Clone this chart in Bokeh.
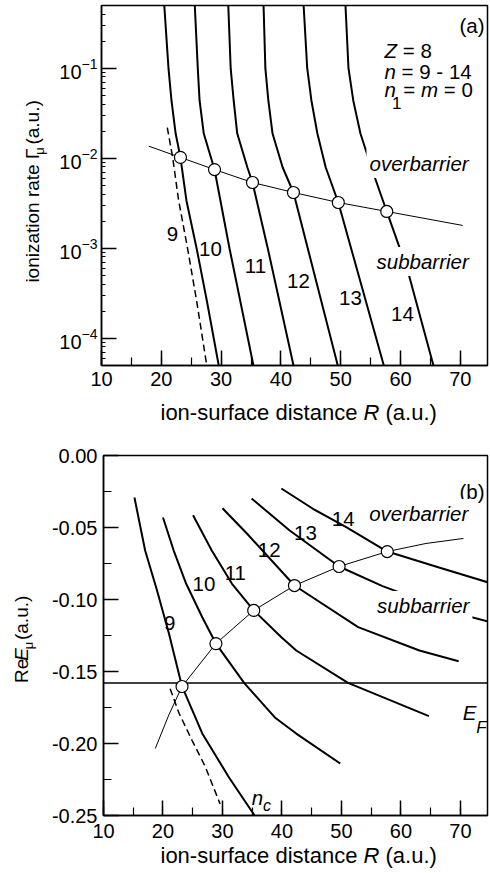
import math
from bokeh.plotting import figure
from bokeh.layouts import column, row
from bokeh.models import (Label, SingleIntervalTicker, FixedTicker, LogTickFormatter,
                          PrintfTickFormatter, Range1d)
from bokeh.embed import file_html
from bokeh.resources import INLINE

# ---------------- panel (a): ionization rate vs R ----------------
Ra_9 = [20.5, 21.2, 21.7, 22.4, 23.2, 24.2, 25.9, 27.6, 29.6]
Ga_9 = [0.498, 0.1, 0.0438, 0.0188, 0.0102, 0.00339, 0.001, 0.000264, 5e-5]
Ra_10 = [25.6, 26.1, 26.4, 27.1, 28.9, 31.4, 35.4]
Ga_10 = [0.498, 0.1, 0.0438, 0.0188, 0.00748, 0.001, 5e-5]
Ra_11 = [31.2, 31.6, 32.1, 32.7, 34.4, 35.25, 37.8, 42.1]
Ga_11 = [0.498, 0.1, 0.0438, 0.0188, 0.00788, 0.00537, 0.001, 5e-5]
Ra_12 = [37.1, 37.4, 37.9, 38.6, 40.3, 42.1, 49.5]
Ga_12 = [0.498, 0.1, 0.0438, 0.0188, 0.00788, 0.00416, 5e-5]
Ra_13 = [43.8, 44.4, 45.1, 46.1, 47.5, 49.6, 57.2]
Ga_13 = [0.498, 0.1, 0.0438, 0.0188, 0.00788, 0.00322, 5e-5]
Ra_14 = [50.8, 51.3, 52.1, 53.3, 55.3, 57.7, 61.2, 65.5]
Ga_14 = [0.498, 0.1, 0.0438, 0.0188, 0.0073, 0.00256, 0.000565, 5e-5]
Ra_dash = [21.0, 21.9, 22.9, 24.4, 25.9, 27.6]
Ga_dash = [0.0219, 0.0102, 0.00339, 0.00099, 0.000262, 5e-5]
R_circ = [23.2, 28.9, 35.25, 42.1, 49.6, 57.7]
Ga_circ = [0.0102, 0.00748, 0.00537, 0.00416, 0.00322, 0.00256]
Ra_link = [17.9, 23.2, 28.9, 35.25, 42.1, 49.6, 57.7, 70.4]
Ga_link = [0.0136, 0.0102, 0.00748, 0.00537, 0.00416, 0.00322, 0.00256, 0.00179]

# ---------------- panel (b): Re E vs R ----------------
Rb_9 = [15.2, 17.0, 19.0, 21.0, 23.2, 26.6, 31.1, 35.4]
Eb_9 = [-0.0292, -0.066, -0.0938, -0.1236, -0.1604, -0.193, -0.2236, -0.25]
Rb_10 = [20.0, 21.8, 23.9, 26.6, 28.9, 33.7, 38.8, 42.4, 49.8]
Eb_10 = [-0.0431, -0.066, -0.0891, -0.1123, -0.1306, -0.1583, -0.1819, -0.1931, -0.2139]
Rb_11 = [25.05, 28.2, 31.6, 35.25, 39.9, 42.4, 51.1, 64.7]
Eb_11 = [-0.0415, -0.066, -0.0891, -0.1076, -0.1262, -0.1354, -0.1579, -0.181]
Rb_12 = [30.0, 34.1, 42.1, 52.8, 63.1, 69.7]
Eb_12 = [-0.0366, -0.0542, -0.0903, -0.1192, -0.1354, -0.1429]
Rb_13 = [34.9, 41.3, 49.6, 56.9, 68.9, 74.7]
Eb_13 = [-0.0299, -0.0521, -0.0771, -0.0907, -0.109, -0.1153]
Rb_14 = [39.9, 45.2, 50.8, 57.7, 66.4, 74.7]
Eb_14 = [-0.0229, -0.0370, -0.0498, -0.0667, -0.0778, -0.0882]
Rb_dash = [21.2, 22.7, 24.9, 27.1, 29.6]
Eb_dash = [-0.162, -0.179, -0.198, -0.216, -0.242]
Eb_circ = [-0.1604, -0.1306, -0.1076, -0.0903, -0.0771, -0.0667]
Rb_link = [18.7, 21.0, 23.2, 28.9, 35.25, 42.1, 49.6, 57.7, 64.2, 70.5]
Eb_link = [-0.2035, -0.180, -0.1604, -0.1306, -0.1076, -0.0903, -0.0771, -0.0667, -0.0611, -0.0576]
E_F = -0.158

x_ticks_major = 10
FONT = "Liberation Sans"

# ---------------- geometry helpers (page pixels -> data) ----------------
FL, FW = 101, 386
X0 = 10.0
PXU = 5.98
X1 = X0 + FW / PXU


def X(px):
    return X0 + (px - FL) / PXU


def Ya(py):
    return 10 ** (-1 - (py - 67.7) / 90.0)


def Yb(py):
    return -(py - 455) / 1440.0


ADV = {' ': 278, '(': 333, ')': 333, '.': 278, '-': 333, '=': 584, 'a': 556, 'b': 556,
       'c': 500, 'd': 556, 'e': 556, 'f': 278, 'i': 222, 'm': 833, 'n': 556, 'o': 556,
       'r': 333, 's': 500, 't': 278, 'u': 556, 'z': 500, 'E': 667, 'F': 611, 'R': 722,
       'Z': 611, 'Γ': 556, 'μ': 576}
MID = 0.35  # distance of the "middle" text line above the baseline, in em


def tw(s, size):
    return sum(ADV.get(ch, 556) for ch in s) * size / 1000.0


def lab(p, x, y, text, size, italic=False, align="left", angle=0.0, bg=False, baseline="alphabetic"):
    kw = {}
    if bg:
        kw = dict(background_fill_color="white", background_fill_alpha=1.0, padding=3)
    p.add_layout(Label(x=x, y=y, text=text, angle=angle,
                       text_font=FONT, text_font_size=f"{size}px",
                       text_font_style="italic" if italic else "normal",
                       text_align=align, text_baseline=baseline,
                       text_color="black", **kw))


def put(p, conv, pieces, px0, py0):
    """horizontal rich text: pieces of (text, size, italic, baseline shift down, extra dx)"""
    cx, cy = conv
    pos = px0
    for piece in pieces:
        text, size, ital, shift = piece[:4]
        pos += piece[4] if len(piece) > 4 else 0
        lead = len(text) - len(text.lstrip(' '))
        trail = len(text) - len(text.rstrip(' '))
        core = text.strip(' ')
        pos += tw(' ' * lead, size)
        lab(p, cx(pos), cy(py0 + shift), core, size, ital)
        pos += tw(core, size) + tw(' ' * trail, size)


def put_up(p, conv, pieces, bx, py0):
    """vertical (bottom-to-top) rich text; baseline at page x = bx, text starting at page y = py0"""
    cx, cy = conv
    pos = py0
    for text, size, ital, shift in pieces:
        lead = len(text) - len(text.lstrip(' '))
        trail = len(text) - len(text.rstrip(' '))
        core = text.strip(' ')
        pos -= tw(' ' * lead, size)
        w = tw(core, size)
        cpy = pos - w / 2.0
        cpx = bx + shift - MID * size
        lab(p, cx(cpx), cy(cpy), core, size, ital, align="center", angle=math.pi / 2, baseline="middle")
        pos -= w + tw(' ' * trail, size)


def style(p, y_minor_in):
    p.grid.visible = False
    p.outline_line_color = "black"
    p.outline_line_width = 1.5
    for ax in p.axis:
        ax.axis_line_width = 1.5
        ax.axis_line_color = "black"
        ax.major_tick_line_width = 1.5
        ax.minor_tick_line_width = 1.2
        ax.major_tick_line_color = "black"
        ax.minor_tick_line_color = "black"
        ax.major_tick_in = 15
        ax.major_tick_out = 0
        ax.minor_tick_out = 0
        ax.major_label_text_font = FONT
        ax.major_label_text_font_size = "20px"
        ax.major_label_text_color = "black"
    for ax in p.xaxis:
        ax.minor_tick_in = 8
    for ax in p.yaxis:
        ax.minor_tick_in = y_minor_in


def text_fig(w, h, transparent=False):
    f = figure(width=w, height=h, x_range=Range1d(0, w), y_range=Range1d(0, h),
               output_backend="svg", toolbar_location=None, min_border=0,
               x_axis_location=None, y_axis_location=None)
    f.grid.visible = False
    f.outline_line_color = None
    if transparent:
        f.background_fill_color = None
        f.border_fill_color = None
    return f


# page layout (pixels from the top-left of the page)
TOP_H, XLA_H, BOT_H, XLB_H, OVL = 394, 46, 406, 37, 10
YLW = 48
A_TOP = 0
XLA_TOP = TOP_H
B_TOP = TOP_H + XLA_H
XLB_TOP = B_TOP + BOT_H - OVL

# ---------------- panel (a) ----------------
p1 = figure(width=490 - YLW, height=TOP_H, x_range=Range1d(X0, X1), y_range=Range1d(Ya(365), Ya(5)),
            y_axis_type="log", output_backend="svg", toolbar_location=None,
            min_border_left=FL - YLW, min_border_right=3, min_border_top=5, min_border_bottom=TOP_H - 365)
p1.xaxis.ticker = SingleIntervalTicker(interval=x_ticks_major, num_minor_ticks=2)
p1.yaxis.ticker = FixedTicker(ticks=[1e-4, 1e-3, 1e-2, 1e-1],
                              minor_ticks=[k * 10.0 ** e for e in range(-5, 0) for k in range(2, 10)])
p1.yaxis.formatter = LogTickFormatter()
style(p1, 4)
p1.xaxis.major_label_standoff = 6
p1.yaxis.major_label_standoff = 4

for rr, gg in [(Ra_9, Ga_9), (Ra_10, Ga_10), (Ra_11, Ga_11), (Ra_12, Ga_12), (Ra_13, Ga_13), (Ra_14, Ga_14)]:
    p1.line(rr, gg, line_color="black", line_width=2)
p1.line(Ra_dash, Ga_dash, line_color="black", line_width=1.5, line_dash="7 4")
p1.line(Ra_link, Ga_link, line_color="black", line_width=1)
p1.scatter(R_circ, Ga_circ, marker="circle", size=12, fill_color="white", line_color="black", line_width=1.2)

CA = (X, Ya)
lab(p1, X(484), Ya(25), "(a)", 20.5, align="right")
put(p1, CA, [("Z", 20.5, True, 0), (" = 8", 20.5, False, 0)], 384, 50)
put(p1, CA, [("n", 20.5, True, 0), (" = 9 - 14", 20.5, False, 0)], 384, 71)
put(p1, CA, [("n", 20.5, True, 0), ("1", 17, False, 13, -4), ("= ", 20.5, False, 0, 2),
             ("m", 20.5, True, 0), (" = 0", 20.5, False, 0)], 384, 89)
lab(p1, X(366), Ya(163), "overbarrier", 20.5, italic=True, bg=True)
lab(p1, X(373), Ya(261), "subbarrier", 20.5, italic=True, bg=True)
for t, cx, by in [("9", 172, 233), ("10", 210, 248), ("11", 255, 265), ("12", 298, 280),
                  ("13", 350, 297), ("14", 402, 313)]:
    lab(p1, X(cx), Ya(by), t, 20.5, align="center")

ylabA = text_fig(YLW, TOP_H)
put_up(ylabA, (lambda px: px, lambda py: A_TOP + TOP_H - py),
       [("ionization rate Γ", 19, False, 0), ("μ", 13, False, 5), (" (a.u.)", 19, False, 0)],
       39, 297)

xlabA = text_fig(490, XLA_H)
put(xlabA, (lambda px: px, lambda py: XLA_TOP + XLA_H - py),
    [("ion-surface distance ", 22, False, 0), ("R", 22, True, 0), (" (a.u.)", 22, False, 0)], 160, 412)

# ---------------- panel (b) ----------------
p2 = figure(width=490 - YLW, height=BOT_H, x_range=Range1d(X0, X1), y_range=Range1d(-0.25, 0.0),
            output_backend="svg", toolbar_location=None,
            min_border_left=FL - YLW, min_border_right=3, min_border_top=455 - B_TOP,
            min_border_bottom=B_TOP + BOT_H - 815)
p2.xaxis.ticker = SingleIntervalTicker(interval=x_ticks_major, num_minor_ticks=2)
p2.yaxis.ticker = SingleIntervalTicker(interval=0.05, num_minor_ticks=2)
p2.yaxis.formatter = PrintfTickFormatter(format="%.2f")
style(p2, 8)
p2.xaxis.major_label_standoff = 8
p2.yaxis.major_label_standoff = 6

p2.line([X0, X1], [E_F, E_F], line_color="black", line_width=1.3)
for rr, ee in [(Rb_9, Eb_9), (Rb_10, Eb_10), (Rb_11, Eb_11), (Rb_12, Eb_12), (Rb_13, Eb_13), (Rb_14, Eb_14)]:
    p2.line(rr, ee, line_color="black", line_width=2)
p2.line(Rb_dash, Eb_dash, line_color="black", line_width=1.5, line_dash="7 4")
p2.line(Rb_link, Eb_link, line_color="black", line_width=1)
p2.scatter(R_circ, Eb_circ, marker="circle", size=12, fill_color="white", line_color="black", line_width=1.2)

CB = (X, Yb)
lab(p2, X(484), Yb(491), "(b)", 20.5, align="right")
for t, cx, by in [("9", 167.5, 622), ("10", 202, 583), ("11", 233.5, 572), ("12", 267.5, 549),
                  ("13", 304, 532), ("14", 342, 518)]:
    lab(p2, X(cx), Yb(by), t, 20.5, align="center")
lab(p2, X(365), Yb(513), "overbarrier", 20.5, italic=True, bg=True)
lab(p2, X(373), Yb(605), "subbarrier", 20.5, italic=True, bg=True)
put(p2, CB, [("E", 20.5, True, 0), ("F", 17, True, 15)], 462, 712)
put(p2, CB, [("n", 20.5, True, 0), ("c", 16, True, 8)], 250, 797)

ylabB = text_fig(YLW, BOT_H)
put_up(ylabB, (lambda px: px, lambda py: B_TOP + BOT_H - py),
       [("Re", 19, False, 0), ("E", 19, True, 0), ("μ", 13, False, 5), (" (a.u.)", 19, False, 0)],
       28, 695)

xlabB = text_fig(490, XLB_H, transparent=True)
xlabB.margin = (-OVL, 0, 0, 0)
put(xlabB, (lambda px: px, lambda py: XLB_TOP + XLB_H - py),
    [("ion-surface distance ", 22, False, 0), ("R", 22, True, 0), (" (a.u.)", 22, False, 0)], 160, 855)

layout = column(row(ylabA, p1), xlabA, row(ylabB, p2), xlabB)
open("out.html", "w").write(file_html(layout, INLINE))
